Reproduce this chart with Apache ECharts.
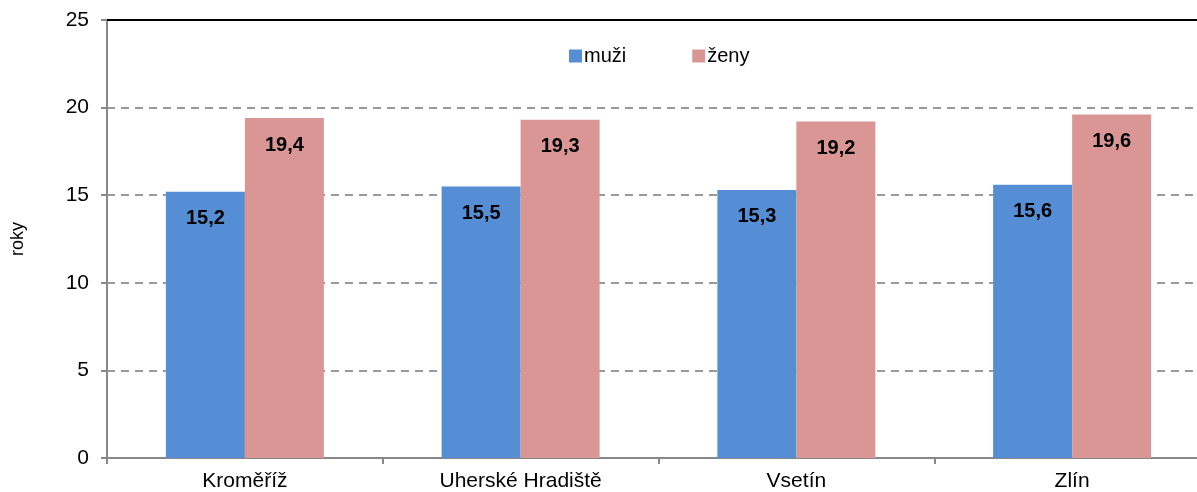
<!DOCTYPE html>
<html>
<head>
<meta charset="utf-8">
<script src="https://cdn.jsdelivr.net/npm/echarts@6/dist/echarts.min.js"></script>
<style>
  html, body { margin: 0; padding: 0; background: #fff; overflow: hidden; }
  /* graf přesahuje pravý okraj jako v originálu */
  #chart { width: 1215px; height: 492px; }
</style>
</head>
<body>
<div id="chart"></div>
<script>
// kategorie a hodnoty
const okresy = ['Kroměříž', 'Uherské Hradiště', 'Vsetín', 'Zlín']
const muzi = [15.2, 15.5, 15.3, 15.6]
const zeny = [19.4, 19.3, 19.2, 19.6]
const yTicks = [0, 5, 10, 15, 20, 25]

const myChart = echarts.init(document.getElementById('chart'))

const fmt = ({ value }) => value.toFixed(1).replace('.', ',')

const barLabel = {
  show: true,
  position: 'insideTop',
  distance: 17,
  color: '#000',
  fontFamily: 'Liberation Sans, Arial, sans-serif',
  fontWeight: 'bold',
  fontSize: 20,
  formatter: fmt
}

const option = {
  animation: false,
  color: ['#558ED5', '#D99694'],
  textStyle: { fontFamily: 'Liberation Sans, Arial, sans-serif' },

  grid: {
    left: 107,
    top: 20,
    width: 1103,
    height: 438
  },

  legend: {
    data: ['muži', 'ženy'],
    left: 564,
    top: 41,
    itemGap: 66,
    itemWidth: 13,
    itemHeight: 13,
    icon: 'rect',
    textStyle: { fontSize: 20, color: '#000', padding: [0, 0, 0, -3] }
  },

  xAxis: [
    {
      type: 'category',
      data: okresy,
      axisLine: { lineStyle: { color: '#888', width: 2 } },
      axisTick: { show: true, length: 6, lineStyle: { color: '#888', width: 2 } },
      axisLabel: { color: '#000', fontSize: 21, margin: 13 }
    },
    {
      type: 'category',
      position: 'top',
      data: okresy,
      axisLine: { show: true, lineStyle: { color: '#000', width: 2 } },
      axisTick: { show: false },
      axisLabel: { show: false }
    }
  ],

  yAxis: {
    type: 'value',
    min: yTicks[0],
    max: yTicks[yTicks.length - 1],
    interval: 5,
    name: 'roky',
    nameLocation: 'middle',
    nameGap: 80,
    nameTextStyle: { color: '#000', fontSize: 18 },
    axisLine: { show: true, lineStyle: { color: '#888', width: 2 } },
    axisTick: { show: true, length: 6, lineStyle: { color: '#888', width: 2 } },
    axisLabel: { color: '#000', fontSize: 21, margin: 18 },
    splitLine: { lineStyle: { color: '#999', type: [8, 6], width: 2 } }
  },

  series: [
    {
      name: 'muži',
      type: 'bar',
      data: muzi,
      barWidth: 79,
      barGap: '0%',
      label: barLabel
    },
    {
      name: 'ženy',
      type: 'bar',
      data: zeny,
      barWidth: 79,
      barGap: '0%',
      label: barLabel
    }
  ]
}

myChart.setOption(option)
</script>
</body>
</html>
